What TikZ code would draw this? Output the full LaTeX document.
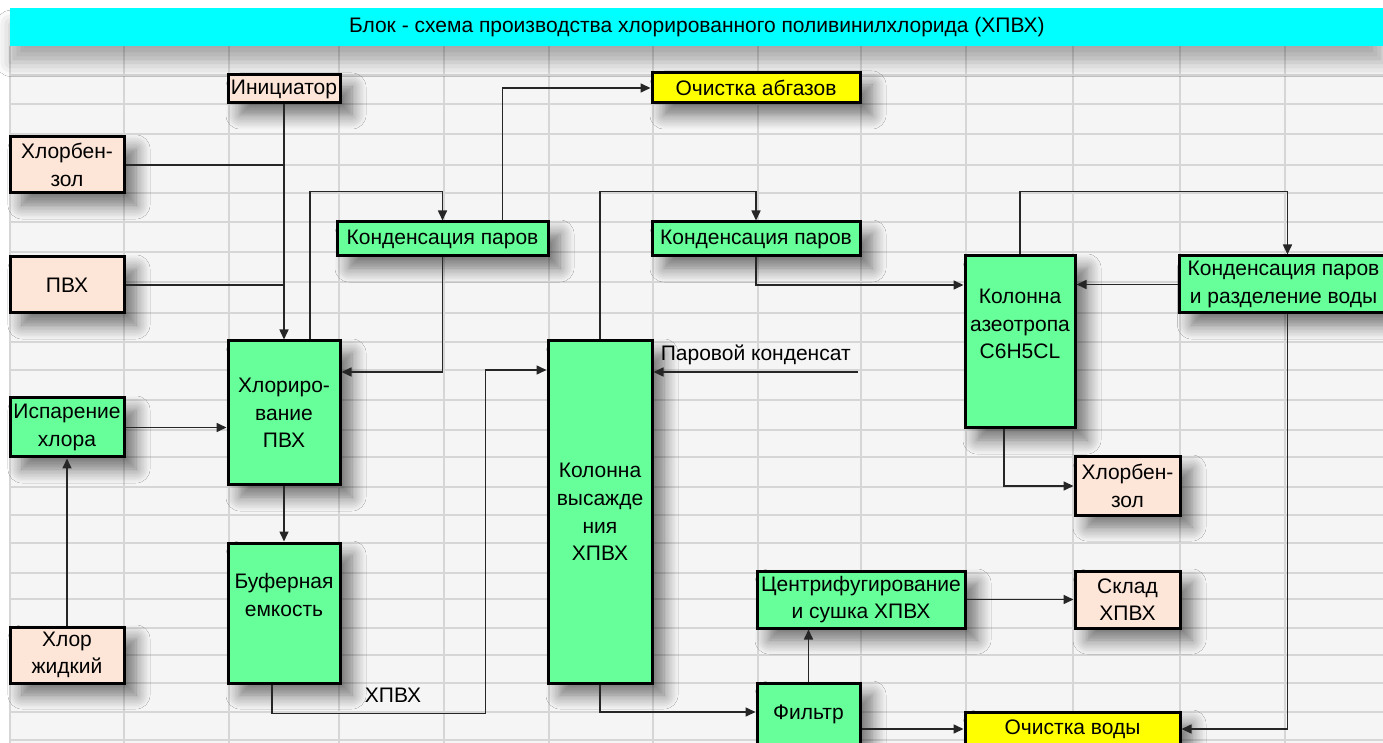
\documentclass[tikz,border=0pt]{standalone}
\usepackage{fontspec}
\setmainfont{Liberation Sans}
\definecolor{procGreen}{RGB}{102,255,153}
\definecolor{feedPeach}{RGB}{253,229,215}
\definecolor{wasteYellow}{RGB}{255,255,0}
\definecolor{titleCyan}{RGB}{0,255,255}
\usetikzlibrary{arrows.meta, shadows.blur}

\begin{document}
\begin{tikzpicture}[x=0.5pt, y=-0.5pt, every node/.style={font=\fontsize{10.5}{13.8}\selectfont, align=center, inner sep=1pt},
    box/.style={draw, line width=1.5pt, blur shadow={shadow xshift=6pt, shadow yshift=-6pt, shadow blur radius=7pt, shadow blur steps=10, shadow opacity=55}},
    proc/.style={box, fill=procGreen},
    feed/.style={box, fill=feedPeach},
    waste/.style={box, fill=wasteYellow},
    flow/.style={draw=black!85, line width=0.8pt, -{Triangle[length=5pt,width=4.5pt]}},
    joint/.style={draw=black!85, line width=0.8pt}]
        \useasboundingbox (0,0) rectangle (1383,743);
        \clip (0,0) rectangle (1383,743);

        % sheet with cell grid
        \fill[white] (0,0) rectangle (1383,743);
        \fill[black!4] (10,46) rectangle (1383,743);
        \foreach \gx in {10,124,229,339,444,549,653,758,861,966,1073,1180,1285}
          \draw[black!16, line width=0.8pt] (\gx,46) -- (\gx,743);
        \foreach \gy in {75,104,134,165,193,222,252,282,313,342,370,400,430,457,487,515,543,573,599,628,655,683,712,740}
          \draw[black!16, line width=0.8pt] (10,\gy) -- (1383,\gy);

        \node[fill=titleCyan, minimum width=686.5pt, minimum height=19pt, inner sep=0pt, anchor=north west,
              blur shadow={shadow xshift=0pt, shadow yshift=-8pt, shadow blur radius=7pt, shadow opacity=30}] (title) at (10,8)
              {Блок - схема производства хлорированного поливинилхлорида (ХПВХ)};

        % feeds
        \node[feed, minimum width=56pt, minimum height=14pt] (init) at (284,89) {Инициатор};
        \node[feed, minimum width=57pt, minimum height=28pt] (chlb1) at (67,165) {Хлорбен-\\зол};
        \node[feed, minimum width=57pt, minimum height=28pt] (pvh) at (67,285) {ПВХ};
        \node[feed, minimum width=57pt, minimum height=28pt] (chlor) at (67,655) {Хлор\\жидкий};

        % process units
        \node[proc, minimum width=57pt, minimum height=29.5pt] (isp) at (67,427.5) {Испарение\\хлора};
        \node[proc, minimum width=56pt, minimum height=72pt] (chlorir) at (284,413) {Хлориро-\\вание\\ПВХ};
        \node[proc, minimum width=56pt, minimum height=70pt] (buf) at (284,613) {Буферная\\емкость\\\strut};
        \node[proc, minimum width=105.5pt, minimum height=17pt] (kond1) at (442.5,239) {Конденсация паров};
        \node[proc, minimum width=104pt, minimum height=17pt] (kond2) at (756,239) {Конденсация паров};
        \node[proc, minimum width=52pt, minimum height=171pt] (kolv) at (600,512) {Колонна\\высажде\\ния\\ХПВХ};
        \node[proc, minimum width=55pt, minimum height=86pt] (kolaz) at (1020,342) {Колонна\\азеотропа\\C6H5CL\\\strut};
        \node[proc, minimum width=104pt, minimum height=28.5pt, anchor=west] (kondr) at (1178,284.5) {Конденсация паров\\и разделение воды};
        \node[proc, minimum width=104pt, minimum height=28.5pt] (centr) at (861,599.5) {Центрифугирование\\и сушка ХПВХ};
        \node[proc, minimum width=51.5pt, minimum height=31pt] (filtr) at (808.5,714) {Фильтр};

        % products and waste
        \node[waste, minimum width=104pt, minimum height=15pt] (abgaz) at (756,88) {Очистка абгазов};
        \node[feed, minimum width=52.5pt, minimum height=29pt] (chlb2) at (1127.5,486) {Хлорбен-\\зол};
        \node[feed, minimum width=52.5pt, minimum height=28.5pt] (sklad) at (1127.5,599.5) {Склад\\ХПВХ};
        \node[waste, minimum width=107.5pt, minimum height=17pt] (ochv) at (1072.5,729) {Очистка воды};

        % streams
        \draw[flow] (init) -- (chlorir);
        \draw[joint] (chlb1.east) -- (chlb1.east -| init.south);
        \draw[joint] (pvh.east) -- (pvh.east -| init.south);
        \draw[flow] ([xshift=13pt]chlorir.north) -- ++(0,-148) -| (kond1.north);
        \draw[flow] ([xshift=30pt]kond1.north) |- (abgaz.west);
        \draw[flow] (kond1.south) |- ([yshift=20.5pt]chlorir.east);
        \draw[flow] (isp.east) -- (isp.east -| chlorir.west);
        \draw[flow] (chlor) -- (isp);
        \draw[flow] (chlorir) -- (buf);
        \draw[flow] ([xshift=-6pt]buf.south) -- ++(0,29) -| ([xshift=-30.5pt,yshift=71pt]kolv.west) -- ([yshift=71pt]kolv.west);
        \node (lhpvh) at (393,695) {ХПВХ};
        \draw[flow] (kolv.north) -- ++(0,-148) -| (kond2.north);
        \coordinate (steam) at (858,372);
        \draw[flow] (steam) -- (steam -| kolv.east) node[midway, above, inner sep=3pt] (lsteam) {Паровой конденсат};
        \draw[flow] (kond2.south) |- ([yshift=28.5pt]kolaz.west);
        \draw[flow] (kolaz.north) -- ++(0,-63) -| ([xshift=2pt]kondr.north);
        \draw[flow] (kondr.west) -- (kondr.west -| kolaz.east);
        \draw[flow] ([xshift=-8pt]kolaz.south) |- (chlb2.west);
        \draw[flow] ([xshift=2pt]kondr.south) |- (ochv.east);
        \draw[flow] (centr) -- (sklad);
        \draw[flow] (filtr.north) -- (filtr.north |- centr.south);
        \draw[flow] (kolv.south) |- ([yshift=1pt]filtr.west);
        \draw[flow] (ochv.west -| filtr.east) -- (ochv.west);
\end{tikzpicture}
\end{document}
